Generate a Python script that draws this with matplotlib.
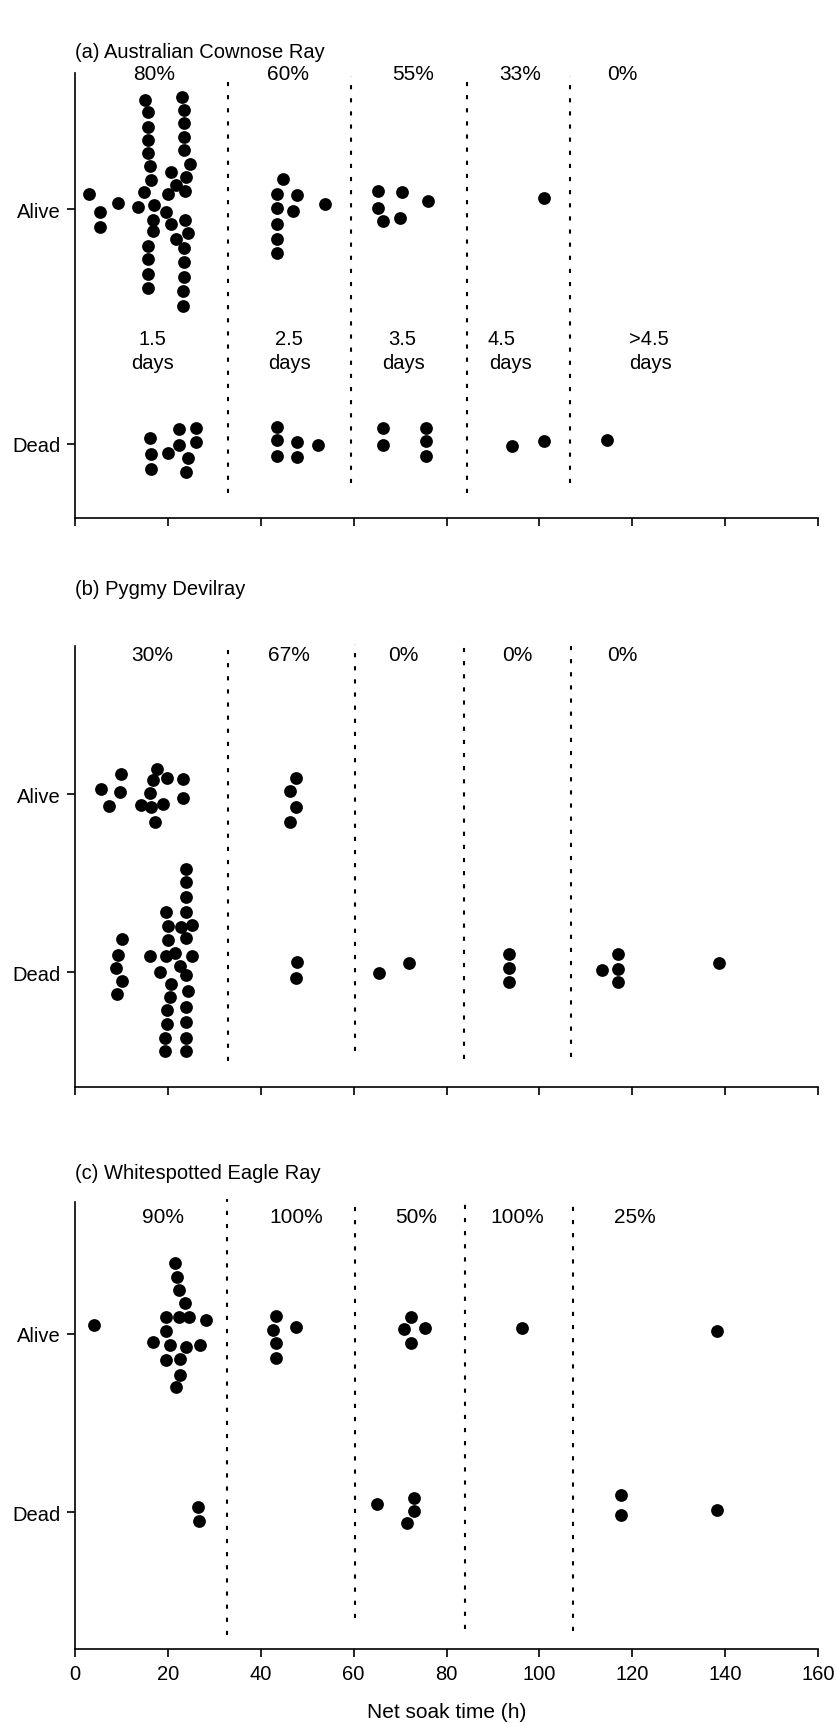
import matplotlib
matplotlib.use("Agg")
import matplotlib.pyplot as plt

plt.rcParams['font.family'] = ['Liberation Sans', 'DejaVu Sans']

# ---- data (x = net soak time in h, y = 1 alive / 0 dead + swarm offset) ----
# (a) Australian Cownose Ray
a_alive_x = [3.0, 5.4, 5.4, 9.2, 13.5,
             15.1, 15.7, 15.7, 15.7, 15.7, 16.2, 16.3, 14.9, 17.1, 16.7, 16.7, 15.7, 15.7, 15.7, 15.7,
             20.7, 21.8, 20.1, 19.6, 20.7, 21.8,
             23.0, 23.5, 23.5, 23.5, 23.5, 24.8, 24.0, 23.7, 23.7, 24.3, 23.5, 23.5, 23.5, 23.3, 23.2,
             44.7, 43.6, 47.9, 43.6, 47.0, 53.9, 43.6, 43.6, 43.6,
             65.2, 70.5, 76.1, 65.2, 66.3, 70.0,
             101.0]
a_alive_y = [1.065, 0.987, 0.922, 1.024, 1.007,
             1.464, 1.411, 1.350, 1.295, 1.237, 1.182, 1.125, 1.074, 1.017, 0.953, 0.908, 0.844, 0.787, 0.723, 0.664,
             1.156, 1.102, 1.064, 0.986, 0.936, 0.872,
             1.478, 1.421, 1.365, 1.305, 1.251, 1.191, 1.135, 1.075, 0.953, 0.896, 0.833, 0.776, 0.712, 0.650, 0.589,
             1.128, 1.064, 1.061, 1.003, 0.990, 1.021, 0.936, 0.872, 0.811,
             1.078, 1.071, 1.033, 1.004, 0.949, 0.962,
             1.047]
a_dead_x = [16.2, 16.3, 16.3, 20.0, 22.3, 22.3, 24.3, 23.8, 26.0, 26.1,
            43.6, 43.6, 43.6, 47.9, 47.9, 52.4,
            66.4, 66.4, 75.6, 75.6, 75.6,
            94.2, 101.0,
            114.6]
a_dead_y = [0.026, -0.043, -0.105, -0.040, 0.062, -0.004, -0.060, -0.121, 0.068, 0.007,
            0.071, 0.017, -0.052, 0.007, -0.054, -0.003,
            0.068, -0.004, 0.068, 0.011, -0.050,
            -0.007, 0.011,
            0.017]

# (b) Pygmy Devilray
b_alive_x = [5.7, 9.8, 9.7, 7.4, 17.7, 16.7, 19.9, 23.2, 16.2, 23.2, 14.2, 16.3, 19.0, 17.2,
             47.6, 46.2, 47.6, 46.2]
b_alive_y = [1.028, 1.110, 1.009, 0.935, 1.140, 1.077, 1.088, 1.084, 1.004, 0.979, 0.938, 0.929, 0.946, 0.845,
             1.088, 1.017, 0.929, 0.845]
b_dead_x = [23.8, 23.8, 23.8, 19.6, 23.8, 20.0, 22.8, 25.1, 10.1, 20.0, 23.8,
            9.3, 16.2, 19.6, 21.5, 25.1, 8.8, 18.3, 22.6, 23.8, 10.1, 20.7,
            24.3, 9.1, 20.5, 19.9, 23.8, 19.9, 23.8, 19.3, 23.8, 19.3, 23.8,
            47.9, 47.6,
            65.5, 71.9,
            93.5, 93.5, 93.5,
            113.5, 116.9, 116.9, 116.9, 138.7]
b_dead_y = [0.579, 0.509, 0.421, 0.340, 0.337, 0.258, 0.254, 0.267, 0.187, 0.183, 0.193,
            0.097, 0.090, 0.090, 0.108, 0.092, 0.026, 0.004, 0.034, -0.015, -0.050, -0.064,
            -0.107, -0.120, -0.138, -0.211, -0.193, -0.290, -0.279, -0.370, -0.370, -0.443, -0.443,
            0.056, -0.032,
            -0.002, 0.050,
            0.103, 0.024, -0.056,
            0.015, 0.103, 0.021, -0.056, 0.050]

# (c) Whitespotted Eagle Ray
c_alive_x = [4.0, 21.5, 21.9, 22.5, 23.7, 19.7, 22.5, 24.6, 28.2, 19.7, 16.7, 20.5, 23.9, 26.9,
             19.7, 22.6, 22.6, 21.8,
             43.3, 42.6, 47.6, 43.3, 43.3,
             72.4, 70.9, 75.4, 72.4,
             96.3,
             138.2]
c_alive_y = [1.050, 1.396, 1.318, 1.249, 1.172, 1.097, 1.097, 1.097, 1.079, 1.019, 0.953, 0.940, 0.929, 0.938,
             0.854, 0.858, 0.770, 0.701,
             1.099, 1.022, 1.037, 0.948, 0.865,
             1.097, 1.028, 1.036, 0.950,
             1.036,
             1.019]
c_dead_x = [26.4, 26.8, 65.0, 72.9, 72.9, 71.4, 117.5, 117.5, 138.3]
c_dead_y = [0.028, -0.050, 0.045, 0.079, 0.007, -0.062, 0.099, -0.015, 0.013]

# soak-day boundaries (h) and survival percentages
a_bounds = [33.0, 59.5, 84.5, 106.6]
b_bounds = [33.0, 60.3, 83.8, 106.9]
c_bounds = [32.7, 60.2, 84.0, 107.3]
a_pct = ['80%', '60%', '55%', '33%', '0%']
b_pct = ['30%', '67%', '0%', '0%', '0%']
c_pct = ['90%', '100%', '50%', '100%', '25%']
a_pct_x = [17.0, 45.9, 72.7, 95.8, 117.9]
b_pct_x = [16.7, 46.1, 70.8, 95.2, 117.9]
c_pct_x = [18.9, 47.6, 73.4, 95.2, 120.5]
day_num = ['1.5', '2.5', '3.5', '4.5', '>4.5']
day_num_x = [16.6, 46.1, 70.5, 91.9, 123.6]
day_word_x = [16.6, 46.1, 70.7, 93.7, 124.0]

panels = [
    dict(title='(a) Australian Cownose Ray', box=(519, 445), ylim=(-0.315, 1.579),
         ax_=a_alive_x, ay=a_alive_y, dx=a_dead_x, dy=a_dead_y,
         bounds=a_bounds, vtop=1.566, vbot=[-0.209, -0.166, -0.209, -0.166],
         pct=a_pct, pct_x=a_pct_x, pct_y=1.579, title_y=52),
    dict(title='(b) Pygmy Devilray', box=(1088, 441), ylim=(-0.643, 1.830),
         ax_=b_alive_x, ay=b_alive_y, dx=b_dead_x, dy=b_dead_y,
         bounds=b_bounds, vtop=1.841, vbot=[-0.496, -0.440, -0.486, -0.475],
         pct=b_pct, pct_x=b_pct_x, pct_y=1.782, title_y=590),
    dict(title='(c) Whitespotted Eagle Ray', box=(1650, 447), ylim=(-0.767, 1.740),
         ax_=c_alive_x, ay=c_alive_y, dx=c_dead_x, dy=c_dead_y,
         bounds=c_bounds, vtop=1.757, vbot=[-0.690, -0.594, -0.656, -0.667],
         pct=c_pct, pct_x=c_pct_x, pct_y=1.656, title_y=1174),
]

W, H = 838, 1724
fig = plt.figure(figsize=(W / 100, H / 100), dpi=100)
fs = 14.5

for i, p in enumerate(panels):
    bottom_px, height_px = p['box']
    ax = fig.add_axes([75 / W, 1 - bottom_px / H, 743 / W, height_px / H])
    ax.plot(p['ax_'], p['ay'], 'o', color='black', ms=9.2, mew=0, clip_on=False)
    ax.plot(p['dx'], p['dy'], 'o', color='black', ms=9.2, mew=0, clip_on=False)
    for xb, yb in zip(p['bounds'], p['vbot']):
        ax.plot([xb, xb], [yb, p['vtop']], color='black', lw=1.5,
                linestyle=(0, (2, 4.3)), clip_on=False)
    for t, xp in zip(p['pct'], p['pct_x']):
        ax.text(xp, p['pct_y'], t, ha='center', va='center', fontsize=15)
    ax.set_xlim(0, 160)
    ax.set_ylim(*p['ylim'])
    ax.set_yticks([0, 1])
    ax.set_yticklabels(['Dead', 'Alive'], fontsize=fs)
    ax.set_xticks(range(0, 161, 20))
    for s in ['top', 'right']:
        ax.spines[s].set_visible(False)
    for s in ['left', 'bottom']:
        ax.spines[s].set_linewidth(1.2)
    ax.tick_params(direction='out', length=6, width=1.2, pad=4, labelsize=fs)
    if i < 2:
        ax.set_xticklabels([])
    else:
        ax.tick_params(axis='x', pad=5)
    fig.text(75 / W, 1 - p['title_y'] / H, p['title'], ha='left', va='center', fontsize=fs)
    if i == 0:
        for n, xn, xw in zip(day_num, day_num_x, day_word_x):
            ax.text(xn, 0.447, n, ha='center', va='center', fontsize=fs)
            ax.text(xw, 0.345, 'days', ha='center', va='center', fontsize=fs)

fig.text(446.5 / W, 1 - 1713 / H, 'Net soak time (h)', ha='center', va='center', fontsize=15)

fig.savefig('out.png', dpi=100)
